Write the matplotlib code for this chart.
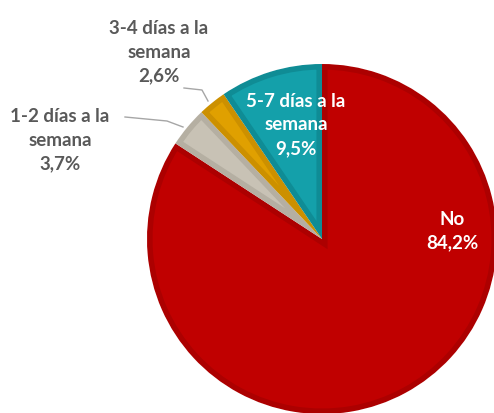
import matplotlib.pyplot as plt

labels = ["No", "1-2 días a la\nsemana", "3-4 días a la\nsemana", "5-7 días a la\nsemana"]
values = [84.2, 3.7, 2.6, 9.5]
colors = ["#C00000", "#C8C2B5", "#E0A000", "#14A0AA"]
edges = ["#AC0000", "#B5AFA2", "#CC9000", "#0F8C95"]
explode = [0.02, 0.0, 0.0, 0.0]

W, H = 494, 414
fig = plt.figure(figsize=(W / 100, H / 100), dpi=100)
ax = fig.add_axes([0, 0, 1, 1])

cx, cy, r = 322, H - 240, 175
wedges, _ = ax.pie(values, colors=colors, startangle=90, counterclock=False,
                   explode=explode, center=(cx, cy), radius=r, frame=True,
                   wedgeprops=dict(edgecolor="white", linewidth=1.0))
ax.set_xlim(0, W)
ax.set_ylim(0, H)
ax.axis("off")

# darker bevel band inside each slice
for w, ec in zip(wedges, edges):
    band = plt.matplotlib.patches.Wedge(w.center, w.r, w.theta1, w.theta2,
                                        facecolor="none", edgecolor=ec, linewidth=8)
    ax.add_patch(band)
    band.set_clip_path(w)

font = "Lato"
txt = dict(fontsize=13.5, family=font, weight="bold", ha="center", va="center",
           linespacing=1.45)
ax.text(452, H - 231, "No\n" + "84,2%", color="white", **txt)
ax.text(296, H - 125, labels[3] + "\n9,5%", color="white", **txt)
ax.text(159, H - 52, labels[2] + "\n2,6%", color="#595959", **txt)
ax.text(60, H - 140, labels[1] + "\n3,7%", color="#595959", **txt)

ax.plot([125, 167, 183], [H - 118, H - 122, H - 128], color="#A6A6A6", lw=1)
ax.plot([184, 202, 208], [H - 89, H - 91, H - 102], color="#A6A6A6", lw=1)

fig.savefig("out.png", dpi=100)
